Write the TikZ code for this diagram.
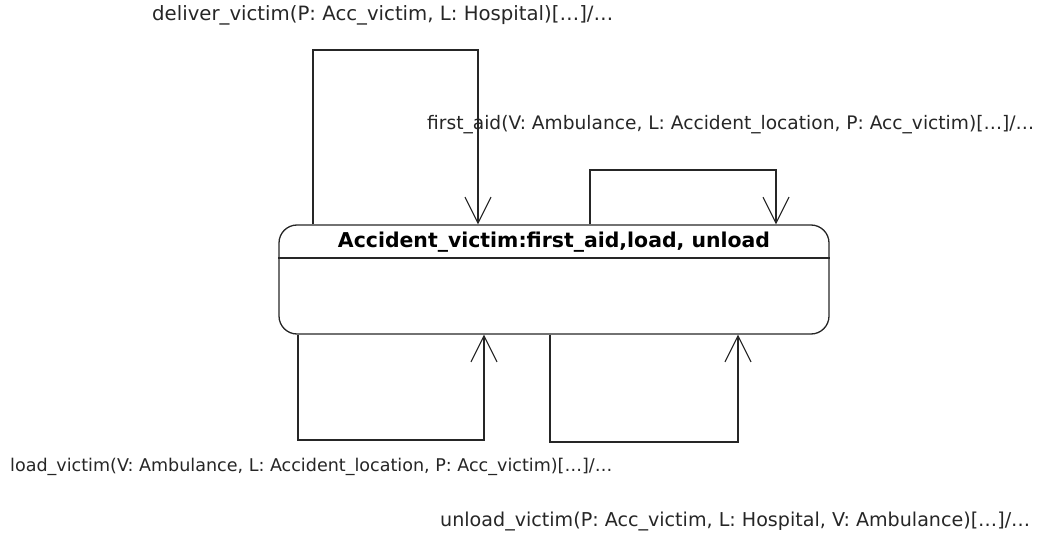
\documentclass[tikz,border=0pt]{standalone}
\usepackage{fontspec}
\setmainfont{DejaVu Sans}
\usetikzlibrary{arrows.meta}
\begin{document}
\begin{tikzpicture}[x=1pt,y=-1pt,
  trans/.style={line width=1.3pt, draw=black!85, -{Straight Barb[length=26pt,width=26pt,line width=1.1pt]}},
  lbl/.style={inner sep=0pt, anchor=west, text=black!85},
  statebox/.style={draw=black!85, line width=1.3pt, rounded corners=18pt, minimum width=550pt, minimum height=109pt, inner sep=0pt}]
  \useasboundingbox (0,0) rectangle (1039,535);
  % state
  \node[statebox] (state) at (554,279.5) {};
  \node[inner sep=0pt] (title) at (554,242) {\resizebox{432pt}{!}{\bfseries Accident\_victim:first\_aid,load, unload}};
  \draw[line width=1.3pt, draw=black!85] (state.west |- 0,258) -- (state.east |- 0,258);
  % loop corners
  \coordinate (d1) at (313,50);  \coordinate (d2) at (478,50);
  \coordinate (f1) at (590,170); \coordinate (f2) at (776,170);
  \coordinate (l1) at (298,440); \coordinate (l2) at (484,440);
  \coordinate (u1) at (550,442); \coordinate (u2) at (738,442);
  % transitions
  \draw[trans] (state.north -| d1) -- (d1) -- (d2) -- (state.north -| d2);
  \draw[trans] (state.north -| f1) -- (f1) -- (f2) -- (state.north -| f2);
  \draw[trans] (state.south -| l1) -- (l1) -- (l2) -- (state.south -| l2);
  \draw[trans] (state.south -| u1) -- (u1) -- (u2) -- (state.south -| u2);
  % labels
  \node[lbl] (ld) at (152,15) {\resizebox{461pt}{!}{deliver\_victim(P: Acc\_victim, L: Hospital)[\dots]/\dots}};
  \node[lbl] (lf) at (427,125) {\resizebox{607pt}{!}{first\_aid(V: Ambulance, L: Accident\_location, P: Acc\_victim)[\dots]/\dots}};
  \node[lbl] (ll) at (10,467) {\resizebox{602pt}{!}{load\_victim(V: Ambulance, L: Accident\_location, P: Acc\_victim)[\dots]/\dots}};
  \node[lbl] (lu) at (440,521) {\resizebox{590pt}{!}{unload\_victim(P: Acc\_victim, L: Hospital, V: Ambulance)[\dots]/\dots}};
\end{tikzpicture}
\end{document}
